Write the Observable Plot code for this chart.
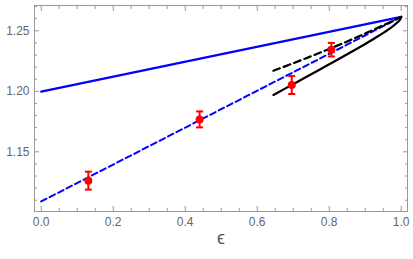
<!DOCTYPE html>
<html><head><meta charset="utf-8">
<script src="https://cdn.jsdelivr.net/npm/d3@7"></script>
<script src="https://cdn.jsdelivr.net/npm/@observablehq/plot@0.6"></script>
<style>
body{margin:0;background:#fff}
</style>
</head><body><div id="chart"></div>
<script>
// measured points with error bars
const eps = [0.131, 0.440, 0.696, 0.806];
const vals = [1.1262, 1.1768, 1.2052, 1.2344];
const errs = [0.0074, 0.0066, 0.0074, 0.0056];
// straight blue curves (endpoints)
const blueX = [0, 1];
const blueSolidY = [1.1998, 1.2615];
const blueDashedY = [1.1090, 1.2615];
// black curves
const blackSolidX = [0.645, 0.70, 0.75, 0.80, 0.85, 0.90, 0.94, 0.97, 0.99, 0.998, 1.0];
const blackSolidY = [1.1970, 1.2059, 1.2141, 1.2223, 1.2306, 1.2391, 1.2463, 1.2522, 1.2570, 1.2598, 1.2615];
const blackDashedX = [0.645, 0.70, 0.75, 0.80, 0.85, 0.90, 0.95, 1.0];
const blackDashedY = [1.2170, 1.2232, 1.2290, 1.2350, 1.2412, 1.2478, 1.2545, 1.2615];
// ticks
const xMajor = [0, 0.2, 0.4, 0.6, 0.8, 1.0];
const xMinor = [0.05, 0.1, 0.15, 0.25, 0.3, 0.35, 0.45, 0.5, 0.55, 0.65, 0.7, 0.75, 0.85, 0.9, 0.95];
const yMajor = [1.15, 1.20, 1.25];
const yMinor = [1.11, 1.12, 1.13, 1.14, 1.16, 1.17, 1.18, 1.19, 1.21, 1.22, 1.23, 1.24, 1.26, 1.27];
const xLabel = "\u03F5";

const pts = eps.map((e, i) => ({x: e, y: vals[i], lo: vals[i] - errs[i], hi: vals[i] + errs[i]}));
const blueSolid = blueX.map((x, i) => ({x, y: blueSolidY[i]}));
const blueDashed = blueX.map((x, i) => ({x, y: blueDashedY[i]}));
const blackSolid = blackSolidX.map((x, i) => ({x, y: blackSolidY[i]}));
const blackDashed = blackDashedX.map((x, i) => ({x, y: blackDashedY[i]}));

const cap = {draw(ctx, size) { const w = Math.sqrt(size / Math.PI); ctx.moveTo(-w, 0); ctx.lineTo(w, 0); }};
const tickStroke = "#999";

const chart = Plot.plot({
  width: 413, height: 259,
  marginLeft: 34, marginRight: 6, marginTop: 5, marginBottom: 48,
  style: {fontFamily: "Liberation Sans, Arial, sans-serif", fontSize: "12px", color: "#666", background: "#fff"},
  x: {domain: [-0.0186, 1.0175]},
  y: {domain: [1.1007, 1.2709]},
  marks: [
    // ticks (inward) on all four sides
    Plot.axisX({anchor: "bottom", ticks: xMajor, tickSize: -5, fill: "none", stroke: tickStroke, label: null}),
    Plot.axisX({anchor: "bottom", ticks: xMinor, tickSize: -3, fill: "none", stroke: tickStroke, label: null}),
    Plot.axisX({anchor: "top", ticks: xMajor, tickSize: -5, fill: "none", stroke: tickStroke, label: null}),
    Plot.axisX({anchor: "top", ticks: xMinor, tickSize: -3, fill: "none", stroke: tickStroke, label: null}),
    Plot.axisY({anchor: "left", ticks: yMajor, tickSize: -5, fill: "none", stroke: tickStroke, label: null}),
    Plot.axisY({anchor: "left", ticks: yMinor, tickSize: -3, fill: "none", stroke: tickStroke, label: null}),
    Plot.axisY({anchor: "right", ticks: yMajor, tickSize: -5, fill: "none", stroke: tickStroke, label: null}),
    Plot.axisY({anchor: "right", ticks: yMinor, tickSize: -3, fill: "none", stroke: tickStroke, label: null}),
    // tick labels
    Plot.axisX({anchor: "bottom", ticks: xMajor, tickSize: 0, tickPadding: 6, tickFormat: d => d.toFixed(1), label: null, fill: "#666"}),
    Plot.axisY({anchor: "left", ticks: yMajor, tickSize: 0, tickPadding: 5, tickFormat: d => d.toFixed(2), label: null, fill: "#666"}),
    Plot.text([xLabel], {text: d => d, frameAnchor: "bottom", dy: 27, lineAnchor: "middle", fontSize: 18, fill: "#555"}),
    Plot.frame({stroke: "#999", strokeWidth: 1}),
    // curves
    Plot.line(blueSolid, {x: "x", y: "y", stroke: "#0000ff", strokeWidth: 2.2}),
    Plot.line(blueDashed, {x: "x", y: "y", stroke: "#0000ff", strokeWidth: 2, strokeDasharray: "6,3.5"}),
    Plot.line(blackSolid, {x: "x", y: "y", stroke: "#000", strokeWidth: 2.2, curve: "catmull-rom"}),
    Plot.line(blackDashed, {x: "x", y: "y", stroke: "#000", strokeWidth: 2.2, strokeDasharray: "7,4", curve: "catmull-rom"}),
    // error bars
    Plot.ruleX(pts, {x: "x", y1: "lo", y2: "hi", stroke: "#ff0000", strokeWidth: 2}),
    Plot.dot(pts, {x: "x", y: "lo", symbol: cap, r: 3.5, stroke: "#ff0000", strokeWidth: 2}),
    Plot.dot(pts, {x: "x", y: "hi", symbol: cap, r: 3.5, stroke: "#ff0000", strokeWidth: 2}),
    Plot.dot(pts, {x: "x", y: "y", r: 4, fill: "#ff0000"})
  ]
});
document.getElementById("chart").appendChild(chart);
</script>
</body></html>
